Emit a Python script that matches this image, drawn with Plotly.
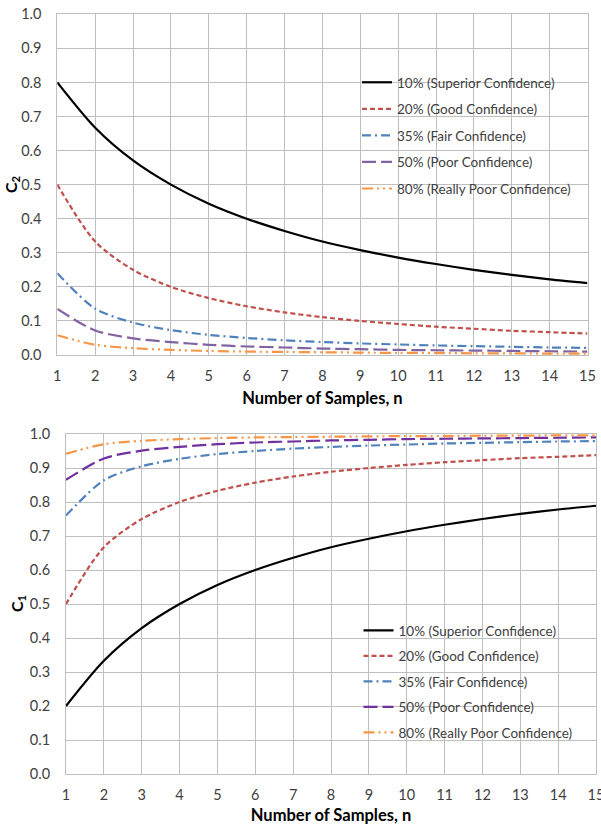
import plotly.graph_objects as go

n = list(range(1, 16))
names = ["10% (Superior Confidence)", "20% (Good Confidence)", "35% (Fair Confidence)",
         "50% (Poor Confidence)", "80% (Really Poor Confidence)"]

c2_10 = [0.800, 0.667, 0.571, 0.500, 0.444, 0.400, 0.364, 0.333, 0.308, 0.286, 0.267, 0.250, 0.235, 0.222, 0.211]
c2_20 = [0.500, 0.333, 0.250, 0.200, 0.167, 0.143, 0.125, 0.111, 0.100, 0.091, 0.083, 0.077, 0.071, 0.067, 0.063]
c2_35 = [0.240, 0.136, 0.095, 0.073, 0.059, 0.050, 0.043, 0.038, 0.034, 0.031, 0.028, 0.026, 0.024, 0.022, 0.021]
c2_50 = [0.135, 0.072, 0.049, 0.038, 0.030, 0.025, 0.022, 0.019, 0.017, 0.015, 0.014, 0.013, 0.012, 0.011, 0.010]
c2_80 = [0.058, 0.030, 0.020, 0.015, 0.012, 0.010, 0.009, 0.008, 0.007, 0.006, 0.006, 0.005, 0.005, 0.004, 0.004]

c1_10 = [0.200, 0.333, 0.429, 0.500, 0.556, 0.600, 0.636, 0.667, 0.692, 0.714, 0.733, 0.750, 0.765, 0.778, 0.789]
c1_20 = [0.500, 0.667, 0.750, 0.800, 0.833, 0.857, 0.875, 0.889, 0.900, 0.909, 0.917, 0.923, 0.929, 0.933, 0.938]
c1_35 = [0.760, 0.864, 0.905, 0.927, 0.941, 0.950, 0.957, 0.962, 0.966, 0.969, 0.972, 0.974, 0.976, 0.978, 0.979]
c1_50 = [0.865, 0.928, 0.951, 0.962, 0.970, 0.975, 0.978, 0.981, 0.983, 0.985, 0.986, 0.987, 0.988, 0.989, 0.990]
c1_80 = [0.942, 0.970, 0.980, 0.985, 0.988, 0.990, 0.991, 0.992, 0.993, 0.994, 0.994, 0.995, 0.995, 0.996, 0.996]

top_series = [c2_10, c2_20, c2_35, c2_50, c2_80]
bot_series = [c1_10, c1_20, c1_35, c1_50, c1_80]

top_colors = ["#000000", "#C0504D", "#4F81BD", "#8064A2", "#F79646"]
bot_colors = ["#000000", "#C0504D", "#4F81BD", "#7030A0", "#F79646"]
dashes = ["solid", "5px,3px", "9px,4px,2px,4px", "14px,5px", "11px,4px,2px,4px,2px,4px"]

FONT = "Lato"
fig = go.Figure()

for i, ys in enumerate(top_series):
    fig.add_trace(go.Scatter(x=n, y=ys, mode="lines", name=names[i],
                             line=dict(color=top_colors[i], width=2.2, dash=dashes[i],
                                       shape="spline", smoothing=0.8),
                             xaxis="x", yaxis="y", legend="legend", legendgroup="t%d" % i))
for i, ys in enumerate(bot_series):
    fig.add_trace(go.Scatter(x=n, y=ys, mode="lines", name=names[i],
                             line=dict(color=bot_colors[i], width=2.2, dash=dashes[i],
                                       shape="spline", smoothing=0.8),
                             xaxis="x2", yaxis="y2", legend="legend2", legendgroup="b%d" % i))

W, H = 601, 825

def px_x(p):
    return p / W

def px_y(p):
    return 1 - p / H

grid = "#BFBFBF"
tickfont = dict(family=FONT, size=14.5, color="#404040")
titlefont = dict(family=FONT, size=16.5, color="#000000")

def xax(domain, anchor):
    return dict(domain=domain, anchor=anchor, range=[1, 15], dtick=1, tick0=1,
                showgrid=True, gridcolor=grid, gridwidth=1, showline=True, linecolor=grid,
                mirror=True, zeroline=False, ticks="", tickfont=tickfont, ticklabelstandoff=8,
                ticklabeloverflow="allow", automargin=False,
                title=dict(text="<b>Number of Samples, n</b>", font=titlefont, standoff=9))

def yax(domain, anchor):
    return dict(domain=domain, anchor=anchor, range=[0, 1.0], dtick=0.1, tick0=0,
                tickformat=".1f", showgrid=True, gridcolor=grid, gridwidth=1, showline=True,
                linecolor=grid, mirror=True, zeroline=False, ticks="", tickfont=tickfont,
                ticklabelstandoff=12, automargin=False)

ytitle_font = dict(family=FONT, size=16, color="#000000")

fig.update_layout(
    width=W, height=H,
    margin=dict(l=0, r=0, t=0, b=0, autoexpand=False),
    paper_bgcolor="white", plot_bgcolor="white",
    xaxis=xax([px_x(57.3), px_x(587.5)], "y"),
    yaxis=yax([px_y(355), px_y(14.3)], "x"),
    xaxis2=xax([px_x(66), px_x(596)], "y2"),
    yaxis2=yax([px_y(774), px_y(434)], "x2"),
    legend=dict(x=px_x(357), y=px_y(67), xanchor="left", yanchor="top",
                font=dict(family=FONT, size=13.5, color="#404040"), bgcolor="rgba(0,0,0,0)",
                tracegroupgap=6, itemwidth=30),
    legend2=dict(x=px_x(358.5), y=px_y(615), xanchor="left", yanchor="top",
                 font=dict(family=FONT, size=13.5, color="#404040"), bgcolor="rgba(0,0,0,0)",
                 tracegroupgap=5, itemwidth=30),
    showlegend=True,
    annotations=[
        dict(text="<b>C<sub>2</sub></b>", textangle=-90, xref="paper", yref="paper",
             x=px_x(11), y=px_y(185), xanchor="center", yanchor="middle",
             showarrow=False, font=ytitle_font),
        dict(text="<b>C<sub>1</sub></b>", textangle=-90, xref="paper", yref="paper",
             x=px_x(17), y=px_y(604), xanchor="center", yanchor="middle",
             showarrow=False, font=ytitle_font),
    ],
)

fig.write_html("out.html", config={"displayModeBar": False},
               post_script="document.body.style.margin='0';document.body.style.padding='0';")
